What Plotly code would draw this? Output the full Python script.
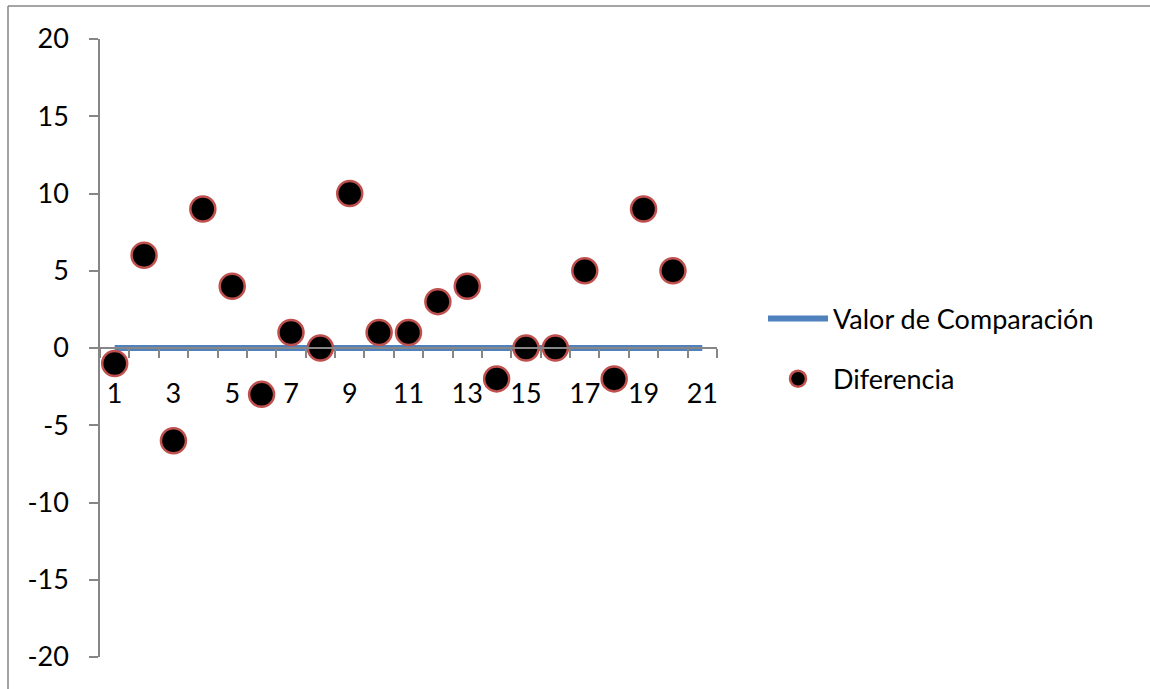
import plotly.graph_objects as go

categories = list(range(1, 22))
diferencia_x = list(range(1, 21))
diferencia = [-1, 6, -6, 9, 4, -3, 1, 0, 10, 1, 1, 3, 4, -2, 0, 0, 5, -2, 9, 5]
comparacion = [0] * 21
x_tick_labels = [1, 3, 5, 7, 9, 11, 13, 15, 17, 19, 21]
y_ticks = [-20, -15, -10, -5, 0, 5, 10, 15, 20]

FONT = "Lato"
W, H = 1150, 689
L, R, T, B = 100, 717, 39, 657

fig = go.Figure()
fig.add_trace(go.Scatter(
    x=categories, y=comparacion, mode="lines", name="Valor de Comparación",
    line=dict(color="#4F81BD", width=6), legendgroup="a",
))
fig.add_trace(go.Scatter(
    x=diferencia_x, y=diferencia, mode="markers", name="Diferencia",
    marker=dict(color="black", size=25, line=dict(color="#C0504D", width=2.5)),
    legendgroup="b",
))

def px_x(p):
    return (p - L) / (R - L)

def px_y(p):
    return (B - p) / (B - T)

border = dict(color="#868686", width=1.5)
fig.add_shape(type="line", xref="paper", yref="paper",
              x0=px_x(8), x1=px_x(W), y0=px_y(6), y1=px_y(6),
              line=border, layer="below")
fig.add_shape(type="line", xref="paper", yref="paper",
              x0=px_x(8), x1=px_x(8), y0=px_y(6), y1=px_y(H),
              line=border, layer="below")

fig.update_layout(
    width=W, height=H,
    margin=dict(l=L, r=W - R, t=T, b=H - B, autoexpand=False),
    plot_bgcolor="white", paper_bgcolor="white",
    font=dict(family=FONT, size=27, color="black"),
    showlegend=True,
    legend=dict(x=px_x(763), y=px_y(349), xanchor="left", yanchor="middle",
                traceorder="grouped", tracegroupgap=22, itemwidth=60,
                font=dict(family=FONT, size=27, color="black"),
                bgcolor="rgba(0,0,0,0)"),
    xaxis=dict(
        range=[0.5, 21.5], anchor="free", position=0.5, automargin=False,
        tickmode="array", tickvals=x_tick_labels,
        ticktext=[str(v) for v in x_tick_labels],
        ticks="outside", ticklen=9, tickcolor="rgba(0,0,0,0)",
        ticklabelstandoff=13,
        minor=dict(tickmode="linear", tick0=0.5, dtick=1, ticks="outside",
                   ticklen=9, tickcolor="#868686", tickwidth=1.5),
        showline=True, linecolor="#868686", linewidth=1.5,
        showgrid=False, zeroline=False,
    ),
    yaxis=dict(
        range=[-20, 20], tickmode="array", tickvals=y_ticks,
        ticktext=[str(v) for v in y_ticks], automargin=False,
        ticks="outside", ticklen=9, tickcolor="#868686", tickwidth=1.5,
        ticklabelstandoff=15,
        showline=True, linecolor="#868686", linewidth=1.5,
        showgrid=False, zeroline=False,
    ),
)

fig.write_html(
    "out.html", config={"displayModeBar": False},
    post_script=("document.body.style.margin='0px';"
                 "document.body.style.overflow='hidden';"
                 "document.documentElement.style.overflow='hidden';"),
)
